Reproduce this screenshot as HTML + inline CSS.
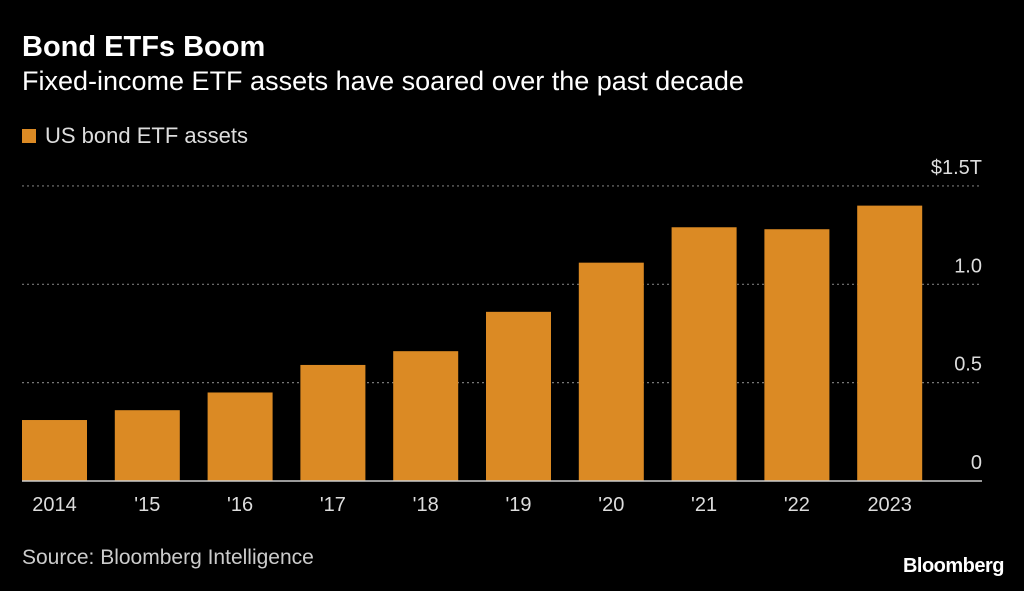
<!DOCTYPE html>
<html><head><meta charset="utf-8"><style>
body{margin:0;background:#000;width:1024px;height:591px;overflow:hidden;font-family:"Liberation Sans",sans-serif;color:#fff}
.t{position:absolute;white-space:nowrap}
</style></head><body>
<div class="t" style="left:22px;top:31px;font-size:29px;font-weight:bold">Bond ETFs Boom</div>
<div class="t" style="left:22px;top:66px;font-size:27px">Fixed-income ETF assets have soared over the past decade</div>
<div class="t" style="left:22px;top:123px;font-size:22px;color:#ddd"><span style="display:inline-block;width:14px;height:14px;background:#DB8A24;margin-right:9px;vertical-align:0px"></span>US bond ETF assets</div>
<svg id="c" width="1024" height="591" style="position:absolute;left:0;top:0"></svg>
<div class="t" style="left:22px;top:546px;font-size:21px;color:#ccc">Source: Bloomberg Intelligence</div>
<div class="t" style="right:20px;top:555px;font-size:20px;font-weight:bold;letter-spacing:-0.5px">Bloomberg</div>
<script>
const categories=["2014","'15","'16","'17","'18","'19","'20","'21","'22","2023"];
const values=[0.31,0.36,0.45,0.59,0.66,0.86,1.11,1.29,1.28,1.40];
const ticks=[0,0.5,1.0,1.5];
const tickLabels=["0","0.5","1.0","$1.5T"];
const svg=document.getElementById('c');const NS="http://www.w3.org/2000/svg";
const y0=481,pxPer=196.7,left=22,step=92.8,bw=65,gridRight=982;
const y=v=>y0-v*pxPer;const x=i=>left+i*step;
function mk(t,a){const e=document.createElementNS(NS,t);for(const k in a)e.setAttribute(k,a[k]);svg.appendChild(e);return e;}
ticks.forEach((t,i)=>{
 if(t>0){const g=mk('line',{x1:left,x2:gridRight,y1:y(t),y2:y(t),stroke:'#777','stroke-width':1.2,'stroke-dasharray':'2,3'});
 
 }
 const l=mk('text',{x:gridRight,y:y(t)-12,'text-anchor':'end',fill:'#ddd','font-size':20,'font-family':'Liberation Sans'});
 l.textContent=tickLabels[i];
 
 
});
values.forEach((v,i)=>{
 const r=mk('rect',{x:x(i),y:y(v),width:bw,height:y0-y(v),fill:'#DB8A24'});
 
 
 const t=mk('text',{x:x(i)+bw/2,y:511,'text-anchor':'middle',fill:'#ddd','font-size':20,'font-family':'Liberation Sans'});
 t.textContent=categories[i];
 
 
});
const b=mk('line',{x1:left,x2:gridRight,y1:y0,y2:y0,stroke:'#ccc','stroke-width':1.5});


</script>
</body></html>
